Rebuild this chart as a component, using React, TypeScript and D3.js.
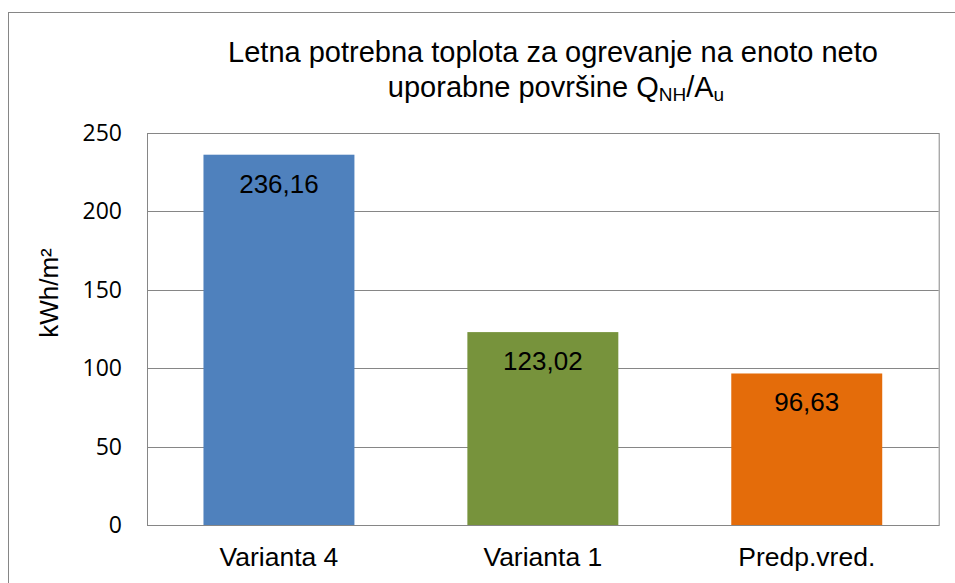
import React from "react";
import * as d3 from "d3";

const categories = ["Varianta 4", "Varianta 1", "Predp.vred."];
const values = [236.16, 123.02, 96.63];
const valueLabels = ["236,16", "123,02", "96,63"];
const barColors = ["#4F81BD", "#77933C", "#E46C0A"];
const yTicks = [0, 50, 100, 150, 200, 250];

const W = 955;
const H = 583;
const plot = { left: 147, right: 938.7, top: 133, bottom: 525 };
const grid = "#868686";
const arial = "'Liberation Sans', Arial, sans-serif";

const App = () => {
  const x = d3
    .scaleBand()
    .domain(categories)
    .range([plot.left, plot.right])
    .paddingInner(0.428)
    .paddingOuter(0.214);
  const y = d3.scaleLinear().domain([0, 250]).range([plot.bottom, plot.top]);

  return (
    <svg
      width={W}
      height={H}
      style={{ position: "absolute", left: 0, top: 0, background: "#fff" }}
    >
      {/* outer chart border, cut off on right and bottom */}
      <rect x={8.5} y={12.5} width={1000} height={700} fill="#fff" stroke={grid} />

      {/* title */}
      <text x={553} y={62} textAnchor="middle" fontFamily={arial} fontSize={29} fill="#000">
        Letna potrebna toplota za ogrevanje na enoto neto
      </text>
      <text x={556} y={97} textAnchor="middle" fontFamily={arial} fontSize={29} fill="#000">
        uporabne površine Q
        <tspan fontSize={19} dy={4}>NH</tspan>
        <tspan dy={-4}>/A</tspan>
        <tspan fontSize={19} dy={4}>u</tspan>
      </text>

      {/* gridlines */}
      {yTicks.map(t => (
        <line
          key={t}
          x1={plot.left}
          x2={plot.right}
          y1={Math.round(y(t)) + 0.5}
          y2={Math.round(y(t)) + 0.5}
          stroke={grid}
        />
      ))}

      {/* bars */}
      {categories.map((c, i) => (
        <rect
          key={c}
          x={x(c)}
          y={y(values[i])}
          width={x.bandwidth()}
          height={y(0) - y(values[i])}
          fill={barColors[i]}
        />
      ))}

      {/* plot area border */}
      <rect
        x={plot.left + 0.5}
        y={plot.top + 0.5}
        width={plot.right - plot.left}
        height={plot.bottom - plot.top}
        fill="none"
        stroke={grid}
      />

      {/* value labels */}
      {categories.map((c, i) => (
        <text
          key={c}
          x={(x(c) as number) + x.bandwidth() / 2}
          y={y(values[i]) + 38}
          textAnchor="middle"
          fontFamily={arial}
          fontSize={26}
          fill="#000"
        >
          {valueLabels[i]}
        </text>
      ))}

      {/* y tick labels */}
      {yTicks.map(t => (
        <text
          key={t}
          x={122}
          y={y(t)}
          dy="0.35em"
          textAnchor="end"
          fontFamily="'Open Sans', sans-serif"
          fontSize={23}
          fill="#000"
        >
          {t}
        </text>
      ))}

      {/* category labels */}
      {categories.map(c => (
        <text
          key={c}
          x={(x(c) as number) + x.bandwidth() / 2}
          y={566}
          textAnchor="middle"
          fontFamily={arial}
          fontSize={26.5}
          fill="#000"
        >
          {c}
        </text>
      ))}

      {/* y axis title */}
      <text
        transform="translate(58 293) rotate(-90)"
        textAnchor="middle"
        fontFamily={arial}
        fontSize={26}
        fill="#000"
      >
        kWh/m²
      </text>
    </svg>
  );
};

export default App;
